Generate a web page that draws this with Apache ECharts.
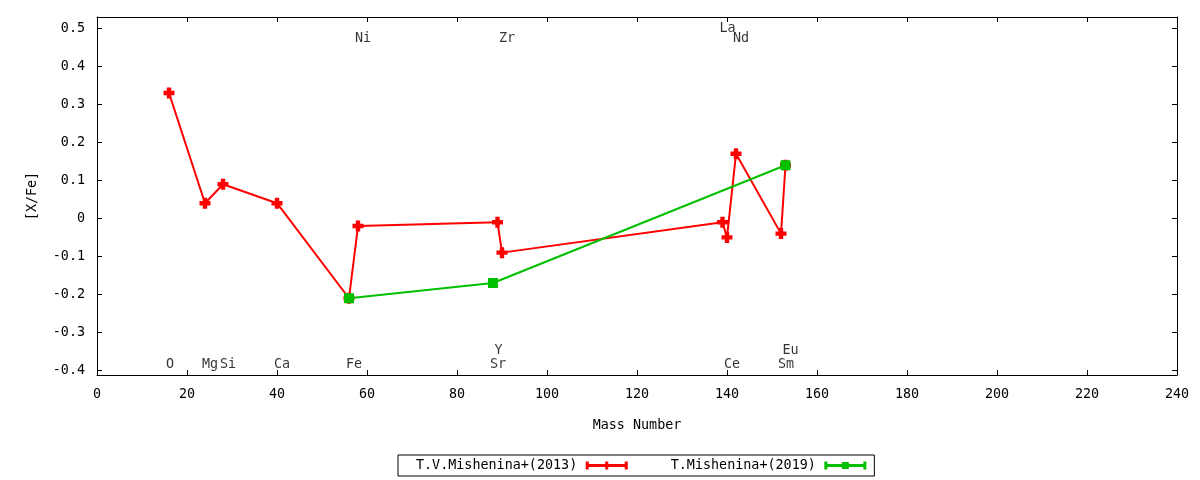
<!DOCTYPE html>
<html>
<head>
<meta charset="utf-8">
<script src="https://cdn.jsdelivr.net/npm/echarts@6/dist/echarts.min.js"></script>
<style>
  html, body { margin: 0; padding: 0; background: #fff; }
  #chart { width: 1200px; height: 480px; }
</style>
</head>
<body>
<div id="chart"></div>
<script>
// [X/Fe] vs mass number
var mass2013 = [16, 24, 28, 40, 56, 58, 89, 90, 139, 140, 142, 152, 153];
var xfe2013  = [0.33, 0.04, 0.09, 0.04, -0.21, -0.02, -0.01, -0.09, -0.01, -0.05, 0.17, -0.04, 0.14];

var mass2019 = [56, 88, 153];
var xfe2019  = [-0.21, -0.17, 0.14];

// element names written in the plot
var labelNames = ['O', 'Mg', 'Si', 'Ca', 'Fe', 'Ni', 'Sr', 'Y', 'Zr', 'La', 'Ce', 'Nd', 'Sm', 'Eu'];
var labelMass  = [16, 24, 28, 40, 56, 58, 88, 89, 90, 139, 140, 142, 152, 153];
var labelRow   = [-0.385, -0.385, -0.385, -0.385, -0.385, 0.473, -0.385, -0.348, 0.473, 0.499, -0.385, 0.473, -0.385, -0.348];

var yTicks = [-0.4, -0.3, -0.2, -0.1, 0, 0.1, 0.2, 0.3, 0.4, 0.5];

var FONT = 'DejaVu Sans Mono';
var FS = 13.4;

function pairs(xs, ys) {
  return xs.map(function (x, i) { return [x, ys[i]]; });
}

var plusSymbol = 'path://M3,0H7V3H10V7H7V10H3V7H0V3H3Z';
var redKey = 'path://M0,0h3v8h-3z M0,2.5h42v3h-42z M39,0h3v8h-3z M19.5,0h3v8h-3z M17.5,2.5h7v3h-7z';
var greenKey = 'path://M0,0h3v8h-3z M0,2.5h42v3h-42z M39,0h3v8h-3z M17.5,0.5h7v7h-7z';

var chart = echarts.init(document.getElementById('chart'));

var axisLine = { show: true, onZero: false, lineStyle: { color: '#000', width: 1 } };
var tick = { show: true, inside: true, length: 5, lineStyle: { color: '#000', width: 1 } };

var option = {
  animation: false,
  backgroundColor: '#fff',
  textStyle: { fontFamily: FONT, color: '#000' },
  grid: { left: 97, right: 23, top: 17, bottom: 105 },
  legend: {
    left: 398,
    top: 455,
    align: 'right',
    orient: 'horizontal',
    itemWidth: 43,
    itemHeight: 8,
    itemGap: 43,
    padding: [4, 8, 4, 18],
    borderColor: '#000',
    borderWidth: 1,
    borderRadius: 0,
    formatter: function (name) { return '{t|' + name + '}'; },
    textStyle: {
      fontFamily: FONT, fontSize: FS, color: '#000',
      rich: { t: { fontFamily: FONT, fontSize: FS, color: '#000', padding: [0, 3, 0, 0] } }
    },
    itemStyle: { borderWidth: 0 },
    data: [
      { name: 'T.V.Mishenina+(2013)', icon: redKey },
      { name: 'T.Mishenina+(2019)', icon: greenKey }
    ]
  },
  xAxis: [{
    type: 'value',
    min: 0,
    max: 240,
    interval: 20,
    position: 'bottom',
    name: 'Mass Number',
    nameLocation: 'middle',
    nameGap: 44,
    nameTextStyle: { fontFamily: FONT, fontSize: FS, color: '#000' },
    axisLine: axisLine,
    axisTick: tick,
    splitLine: { show: false },
    axisLabel: { margin: 13, fontFamily: FONT, fontSize: FS, color: '#000' }
  }, {
    type: 'value',
    min: 0,
    max: 240,
    interval: 20,
    position: 'top',
    axisLine: axisLine,
    axisTick: tick,
    splitLine: { show: false },
    axisLabel: { show: false }
  }],
  yAxis: [{
    type: 'value',
    min: -0.412,
    max: 0.53,
    position: 'left',
    name: '[X/Fe]',
    nameLocation: 'middle',
    nameGap: 58,
    nameTextStyle: { fontFamily: FONT, fontSize: FS, color: '#000' },
    axisLine: axisLine,
    axisTick: Object.assign({ customValues: yTicks }, tick),
    splitLine: { show: false },
    axisLabel: { customValues: yTicks, margin: 12, fontFamily: FONT, fontSize: FS, color: '#000' }
  }, {
    type: 'value',
    min: -0.412,
    max: 0.53,
    position: 'right',
    axisLine: axisLine,
    axisTick: Object.assign({ customValues: yTicks }, tick),
    splitLine: { show: false },
    axisLabel: { show: false }
  }],
  series: [{
    name: 'elements',
    type: 'scatter',
    symbolSize: 0,
    silent: true,
    z: 1,
    data: labelMass.map(function (m, i) { return { value: [m, labelRow[i]], name: labelNames[i] }; }),
    label: {
      show: true,
      position: [-3, 0],
      align: 'left',
      verticalAlign: 'middle',
      fontFamily: FONT,
      fontSize: FS,
      color: '#000',
      formatter: function (p) { return p.name; }
    }
  }, {
    name: 'T.V.Mishenina+(2013)',
    type: 'line',
    data: pairs(mass2013, xfe2013),
    color: '#ff0000',
    symbol: plusSymbol,
    symbolSize: 11,
    showAllSymbol: true,
    lineStyle: { color: '#ff0000', width: 2 },
    itemStyle: { color: '#ff0000', borderWidth: 0 },
    z: 2
  }, {
    name: 'T.Mishenina+(2019)',
    type: 'line',
    data: pairs(mass2019, xfe2019),
    color: '#00c000',
    symbol: 'rect',
    symbolSize: 10,
    showAllSymbol: true,
    lineStyle: { color: '#00c000', width: 2 },
    itemStyle: { color: '#00c000', borderWidth: 0 },
    z: 3
  }]
};

chart.setOption(option);
</script>
</body>
</html>
